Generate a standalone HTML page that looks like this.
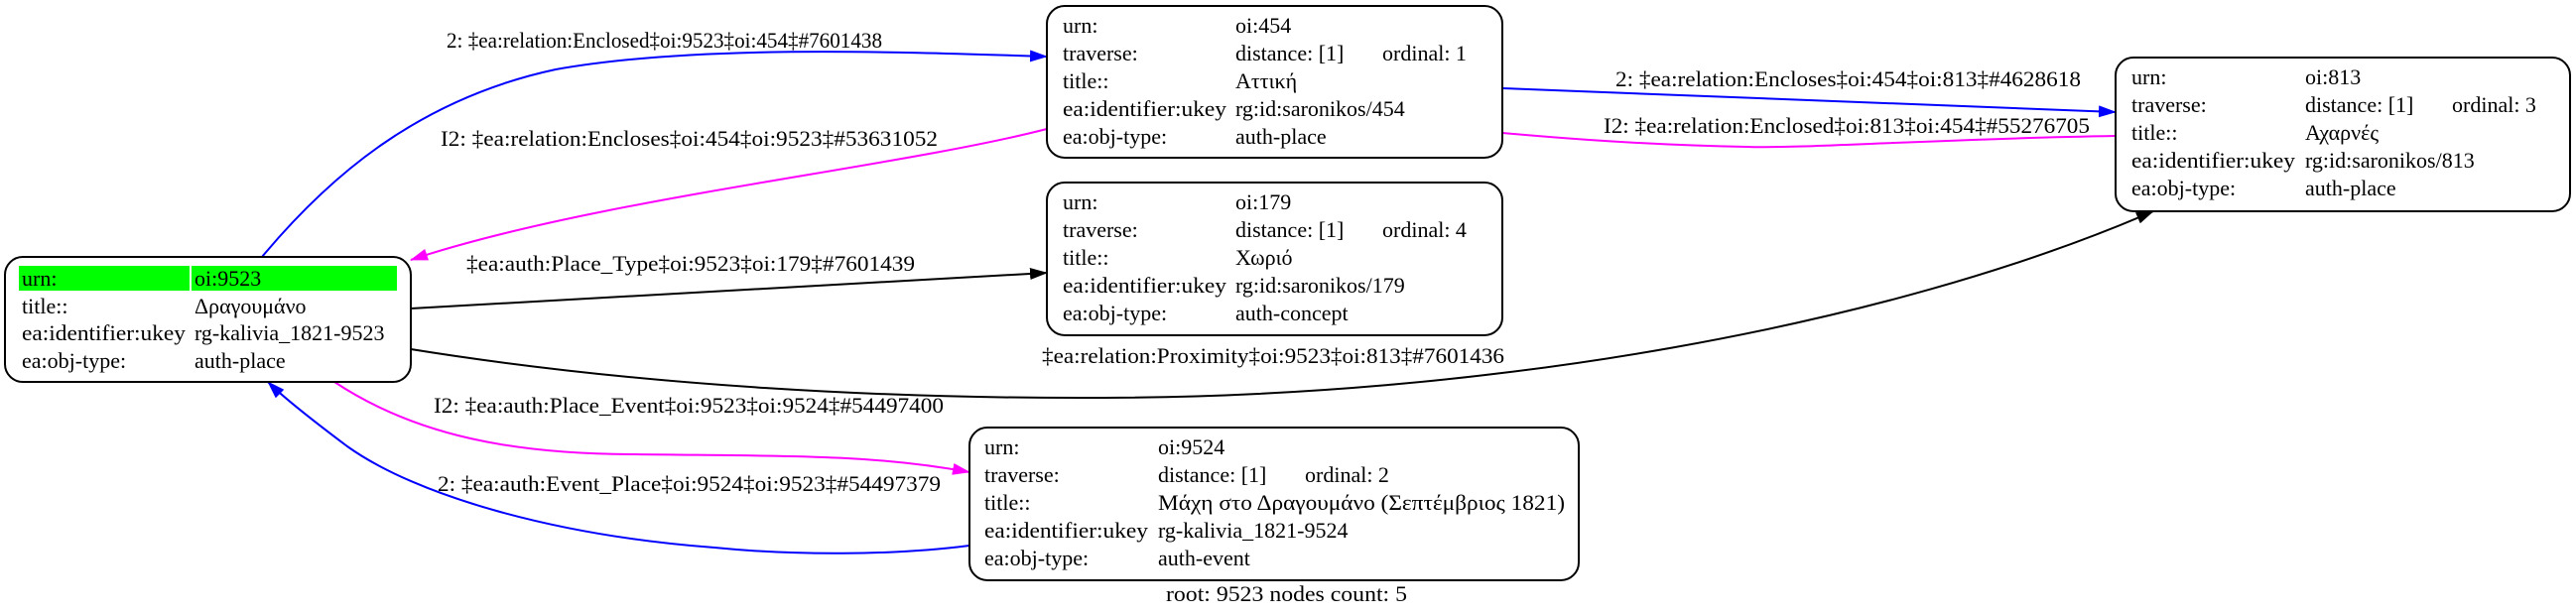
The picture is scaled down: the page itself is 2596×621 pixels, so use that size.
<!DOCTYPE html>
<html><head><meta charset="utf-8"><style>
html,body{margin:0;padding:0;background:#fff}
svg{display:block}
text{font-family:"Liberation Serif","DejaVu Serif",serif;font-size:22px;fill:#000}
</style></head><body>
<svg width="2596" height="621" viewBox="0 0 2596 621" xmlns="http://www.w3.org/2000/svg">
<defs>
<marker id="ab" markerWidth="10" markerHeight="8" refX="9" refY="4" orient="auto" markerUnits="userSpaceOnUse"><path d="M0,0 L10,4 L0,8 z" fill="#00f"/></marker>
<marker id="am" markerWidth="18" markerHeight="12" refX="17" refY="6" orient="auto" markerUnits="userSpaceOnUse"><path d="M0,0 L18,6 L0,12 z" fill="#f0f"/></marker>
<marker id="ak" markerWidth="18" markerHeight="12" refX="17" refY="6" orient="auto" markerUnits="userSpaceOnUse"><path d="M0,0 L18,6 L0,12 z" fill="#000"/></marker>
<marker id="ab2" markerWidth="18" markerHeight="12" refX="17" refY="6" orient="auto" markerUnits="userSpaceOnUse"><path d="M0,0 L18,6 L0,12 z" fill="#00f"/></marker>
</defs>

<!-- edges -->
<path d="M264,259 C330,180 420,100 560,70 C700,45 900,52 1055,57" fill="none" stroke="#00f" stroke-width="2" marker-end="url(#ab2)"/>
<path d="M1055,130 C900,170 600,200 414,262" fill="none" stroke="#f0f" stroke-width="2" marker-end="url(#am)"/>
<path d="M414,311 L1055,275" fill="none" stroke="#000" stroke-width="2" marker-end="url(#ak)"/>
<path d="M414,352 C650,390 900,402 1113,401 C1500,400 1900,330 2170,213" fill="none" stroke="#000" stroke-width="2" marker-end="url(#ak)"/>
<path d="M1514,89 L2132,113" fill="none" stroke="#00f" stroke-width="2" marker-end="url(#ab2)"/>
<path d="M2132,137 C1950,140 1820,150 1760,148 C1650,146 1550,138 1452,128" fill="none" stroke="#f0f" stroke-width="2" marker-end="url(#am)"/>
<path d="M337,385 C420,440 520,458 640,458 C800,460 880,458 977,476" fill="none" stroke="#f0f" stroke-width="2" marker-end="url(#am)"/>
<path d="M977,550 C900,560 800,560 720,552 C560,540 420,500 350,450 C310,420 285,400 270,385" fill="none" stroke="#00f" stroke-width="2" marker-end="url(#ab2)"/>

<!-- edge labels -->
<text x="450" y="48" textLength="439" lengthAdjust="spacingAndGlyphs">2: ‡ea:relation:Enclosed‡oi:9523‡oi:454‡#7601438</text>
<text x="444" y="147" textLength="501" lengthAdjust="spacingAndGlyphs">I2: ‡ea:relation:Encloses‡oi:454‡oi:9523‡#53631052</text>
<text x="470" y="273" textLength="452" lengthAdjust="spacingAndGlyphs">‡ea:auth:Place_Type‡oi:9523‡oi:179‡#7601439</text>
<text x="1050" y="366" textLength="466" lengthAdjust="spacingAndGlyphs">‡ea:relation:Proximity‡oi:9523‡oi:813‡#7601436</text>
<text x="1628" y="87" textLength="469" lengthAdjust="spacingAndGlyphs">2: ‡ea:relation:Encloses‡oi:454‡oi:813‡#4628618</text>
<text x="1616" y="134" textLength="490" lengthAdjust="spacingAndGlyphs">I2: ‡ea:relation:Enclosed‡oi:813‡oi:454‡#55276705</text>
<text x="437" y="416" textLength="514" lengthAdjust="spacingAndGlyphs">I2: ‡ea:auth:Place_Event‡oi:9523‡oi:9524‡#54497400</text>
<text x="441" y="495" textLength="507" lengthAdjust="spacingAndGlyphs">2: ‡ea:auth:Event_Place‡oi:9524‡oi:9523‡#54497379</text>
<text x="1175" y="606" textLength="243" lengthAdjust="spacingAndGlyphs">root: 9523 nodes count: 5</text>

<!-- node 9523 -->
<rect x="5" y="259" width="409" height="126" rx="18" fill="#fff" stroke="#000" stroke-width="2"/>
<rect x="19" y="268" width="172" height="25" fill="#0f0"/>
<rect x="193" y="268" width="207" height="25" fill="#0f0"/>
<text x="22" y="288">urn:</text><text x="196" y="288">oi:9523</text>
<text x="22" y="316">title::</text><text x="196" y="316">Δραγουμάνο</text>
<text x="22" y="343" textLength="165" lengthAdjust="spacingAndGlyphs">ea:identifier:ukey</text><text x="196" y="343">rg-kalivia_1821-9523</text>
<text x="22" y="371">ea:obj-type:</text><text x="196" y="371">auth-place</text>

<!-- node 454 -->
<rect x="1055" y="6" width="459" height="153" rx="18" fill="#fff" stroke="#000" stroke-width="2"/>
<text x="1071" y="33">urn:</text><text x="1245" y="33">oi:454</text>
<text x="1071" y="61">traverse:</text><text x="1245" y="61">distance: [1]</text><text x="1393" y="61">ordinal: 1</text>
<text x="1071" y="89">title::</text><text x="1245" y="89">Αττική</text>
<text x="1071" y="117" textLength="165" lengthAdjust="spacingAndGlyphs">ea:identifier:ukey</text><text x="1245" y="117">rg:id:saronikos/454</text>
<text x="1071" y="145">ea:obj-type:</text><text x="1245" y="145">auth-place</text>

<!-- node 179 -->
<rect x="1055" y="184" width="459" height="154" rx="18" fill="#fff" stroke="#000" stroke-width="2"/>
<text x="1071" y="211">urn:</text><text x="1245" y="211">oi:179</text>
<text x="1071" y="239">traverse:</text><text x="1245" y="239">distance: [1]</text><text x="1393" y="239">ordinal: 4</text>
<text x="1071" y="267">title::</text><text x="1245" y="267">Χωριό</text>
<text x="1071" y="295" textLength="165" lengthAdjust="spacingAndGlyphs">ea:identifier:ukey</text><text x="1245" y="295">rg:id:saronikos/179</text>
<text x="1071" y="323">ea:obj-type:</text><text x="1245" y="323">auth-concept</text>

<!-- node 813 -->
<rect x="2132" y="58" width="458" height="155" rx="18" fill="#fff" stroke="#000" stroke-width="2"/>
<text x="2148" y="85">urn:</text><text x="2323" y="85">oi:813</text>
<text x="2148" y="113">traverse:</text><text x="2323" y="113">distance: [1]</text><text x="2471" y="113">ordinal: 3</text>
<text x="2148" y="141">title::</text><text x="2323" y="141">Αχαρνές</text>
<text x="2148" y="169" textLength="165" lengthAdjust="spacingAndGlyphs">ea:identifier:ukey</text><text x="2323" y="169">rg:id:saronikos/813</text>
<text x="2148" y="197">ea:obj-type:</text><text x="2323" y="197">auth-place</text>

<!-- node 9524 -->
<rect x="977" y="431" width="614" height="154" rx="18" fill="#fff" stroke="#000" stroke-width="2"/>
<text x="992" y="458">urn:</text><text x="1167" y="458">oi:9524</text>
<text x="992" y="486">traverse:</text><text x="1167" y="486">distance: [1]</text><text x="1315" y="486">ordinal: 2</text>
<text x="992" y="514">title::</text><text x="1167" y="514" textLength="410" lengthAdjust="spacingAndGlyphs">Μάχη στο Δραγουμάνο (Σεπτέμβριος 1821)</text>
<text x="992" y="542" textLength="165" lengthAdjust="spacingAndGlyphs">ea:identifier:ukey</text><text x="1167" y="542">rg-kalivia_1821-9524</text>
<text x="992" y="570">ea:obj-type:</text><text x="1167" y="570">auth-event</text>
</svg>
</body></html>
